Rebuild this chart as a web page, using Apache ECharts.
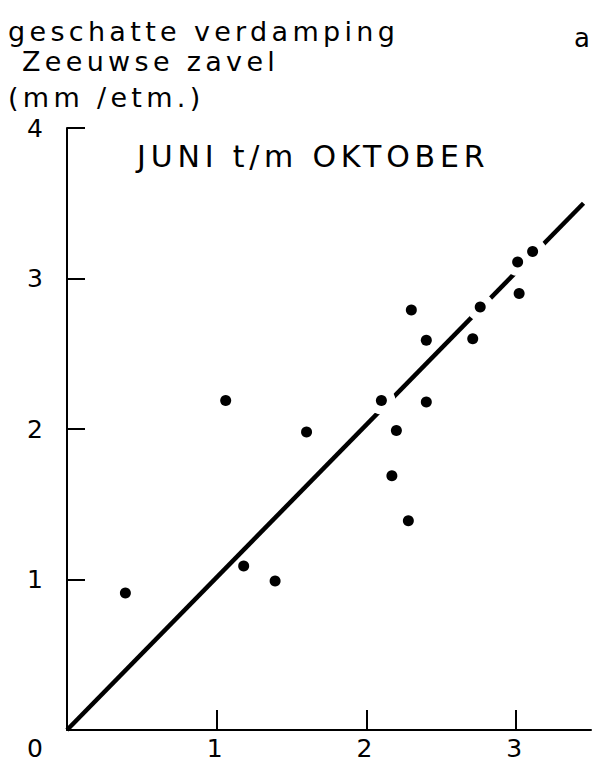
<!DOCTYPE html>
<html>
<head>
<meta charset="utf-8">
<script src="https://cdn.jsdelivr.net/npm/echarts@6/dist/echarts.min.js"></script>
<style>
  html, body { margin: 0; padding: 0; background: #fff; }
  #chart { width: 593px; height: 768px; }
  #chart text { letter-spacing: 0.16em; }
</style>
</head>
<body>
<div id="chart"></div>
<script>
// Data
const pointX = [0.39, 1.06, 1.18, 1.39, 1.60, 2.10, 2.17, 2.20, 2.28, 2.30, 2.40, 2.40, 2.71, 2.76, 3.01, 3.02, 3.11];
const pointY = [0.91, 2.19, 1.09, 0.99, 1.98, 2.19, 1.69, 1.99, 1.39, 2.79, 2.18, 2.59, 2.60, 2.81, 3.11, 2.90, 3.18];
const fitX = [0, 3.45];
const fitY = [0, 3.50];
const xTicks = [0, 1, 2, 3];
const yTicks = [1, 2, 3, 4];
const titleLines = ['geschatte verdamping', 'Zeeuwse zavel', '(mm /etm.)'];
const periodLabel = 'JUNI t/m OKTOBER';
const panelLabel = 'a';

const FONT = '"DejaVu Sans", sans-serif';
const chart = echarts.init(document.getElementById('chart'), null, { renderer: 'svg' });

const points = pointX.map((x, i) => [x, pointY[i]]);
const fit = fitX.map((x, i) => [x, fitY[i]]);

// The drawn regression line is interrupted where points sit on it:
// pick the points lying (almost) on the fitted line.
const slope = (fitY[1] - fitY[0]) / (fitX[1] - fitX[0]);
const onLine = points.filter(([x, y]) =>
  Math.abs(y - (fitY[0] + slope * (x - fitX[0]))) / Math.sqrt(1 + slope * slope) < 0.055);

chart.setOption({
  animation: false,
  backgroundColor: '#fff',
  grid: { left: 67, right: 2, top: 128, bottom: 38, containLabel: false },
  xAxis: {
    type: 'value', min: 0, max: 3.5, interval: 1,
    splitLine: { show: false },
    axisLine: { show: true, onZero: false, lineStyle: { color: '#000', width: 2 } },
    axisTick: { show: true, inside: true, length: 20, customValues: xTicks, lineStyle: { color: '#000', width: 2 } },
    axisLabel: {
      customValues: xTicks, color: '#000', fontSize: 25, fontFamily: FONT, margin: 6,
      formatter: v => (v === 0 ? '{o|0}' : String(v)),
      rich: { o: { fontSize: 25, fontFamily: FONT, color: '#000', padding: [0, 60, 0, 0] } }
    }
  },
  yAxis: {
    type: 'value', min: 0, max: 4, interval: 1,
    splitLine: { show: false },
    axisLine: { show: true, onZero: false, lineStyle: { color: '#000', width: 2 } },
    axisTick: { show: true, inside: true, length: 18, customValues: yTicks, lineStyle: { color: '#000', width: 2 } },
    axisLabel: { customValues: yTicks, color: '#000', fontSize: 25, fontFamily: FONT, margin: 20 }
  },
  series: [
    {
      type: 'line', data: fit, symbol: 'none', z: 2, silent: true,
      lineStyle: { color: '#000', width: 4.5, opacity: 1 }
    },
    {
      type: 'scatter', data: onLine, symbolSize: 28, z: 3, silent: true,
      itemStyle: { color: '#fff', opacity: 1 }
    },
    {
      type: 'scatter', data: points, symbolSize: 11, z: 4,
      itemStyle: { color: '#000', opacity: 1 }
    }
  ],
  graphic: [
    { type: 'text', style: { text: titleLines[0], x: 8, y: 31, font: '27px ' + FONT, fill: '#000', textAlign: 'left', textVerticalAlign: 'middle' } },
    { type: 'text', style: { text: titleLines[1], x: 22, y: 61, font: '27px ' + FONT, fill: '#000', textAlign: 'left', textVerticalAlign: 'middle' } },
    { type: 'text', style: { text: titleLines[2], x: 8, y: 97, font: '27px ' + FONT, fill: '#000', textAlign: 'left', textVerticalAlign: 'middle' } },
    { type: 'text', style: { text: panelLabel, x: 574, y: 38, font: '26px ' + FONT, fill: '#000', textAlign: 'left', textVerticalAlign: 'middle' } },
    { type: 'text', style: { text: periodLabel, x: 137, y: 156, font: '30px ' + FONT, fill: '#000', textAlign: 'left', textVerticalAlign: 'middle' } }
  ]
});
</script>
</body>
</html>
